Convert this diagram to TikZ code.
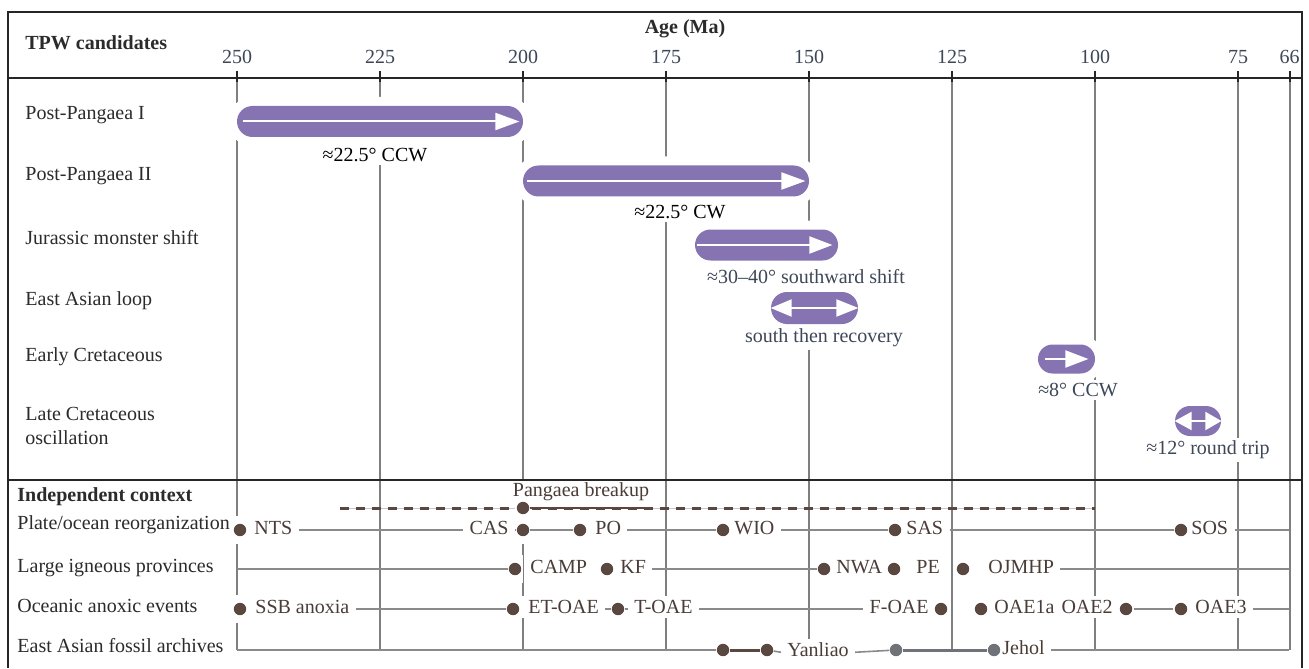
\documentclass[tikz,border=0pt]{standalone}
\usepackage{fontspec}
\setmainfont{Liberation Serif}
\usetikzlibrary{arrows.meta,shapes.misc}
\definecolor{frm}{HTML}{262626}
\definecolor{grd}{HTML}{7F7F7F}
\definecolor{rwl}{HTML}{8A8A8A}
\definecolor{tpw}{HTML}{8673B2}
\definecolor{brn}{HTML}{5A4840}
\definecolor{brt}{HTML}{4A3C36}
\definecolor{slate}{HTML}{3D4757}
\definecolor{gdt}{HTML}{6F7378}
\definecolor{lbl}{HTML}{2B2B2B}
\definecolor{lightbr}{HTML}{CFC6C1}
\begin{document}
\begin{tikzpicture}[x=0.5pt,y=-0.5pt,
  framel/.style={draw=frm, line width=1pt},
  gridl/.style={draw=grd, line width=1pt},
  rowl/.style={draw=rwl, line width=0.8pt},
  rowlab/.style={anchor=mid west, inner sep=0pt, text=lbl},
  ticklab/.style={text=slate, inner sep=0pt},
  bar/.style={rounded rectangle, fill=tpw, inner sep=0pt, minimum height=15.5pt,
    preaction={draw=white, line width=9pt}},
  barlab/.style={fill=white, inner xsep=2pt, inner ysep=1.5pt},
  arw/.style={draw=white, line width=1pt},
  evlab/.style={fill=white, text=brt, inner xsep=3pt, inner ysep=2pt},
  mask/.style={fill=white, inner sep=0pt, minimum width=8pt, minimum height=14pt},
  evdot/.style={circle, fill=brn, inner sep=0pt, minimum size=6.2pt},
  fdot/.style={circle, fill=gdt, inner sep=0pt, minimum size=6.2pt}
]
\useasboundingbox (0,0) rectangle (1309,668);
\fill[white] (0,0) rectangle (1309,668);

% ---------- grid and axis ----------
\foreach \a in {250,225,200,175,150,125,100,75,66}{
  \draw[gridl] ({237+(250-\a)*5.72},78) -- ({237+(250-\a)*5.72},650);
  \node[ticklab] (tick\a) at ({237+(250-\a)*5.72},57) {\a};
}
\node[font=\bfseries, text=lbl, inner sep=0pt] (age) at (685,29) {Age (Ma)};
\node[rowlab, font=\bfseries] (tpwc) at (25,45) {TPW candidates};

% ---------- TPW rows ----------
\node[rowlab] (r1) at (25,115) {Post-Pangaea I};
\node[rowlab] (r2) at (25,176) {Post-Pangaea II};
\node[rowlab] (r3) at (25,240) {Jurassic monster shift};
\node[rowlab] (r4) at (25,301) {East Asian loop};
\node[rowlab] (r5) at (25,357) {Early Cretaceous};
\node[anchor=west, inner sep=0pt, text=lbl, align=left] (r6) at (25,426) {Late Cretaceous\\oscillation};

\node[bar, minimum width=143pt] (b1) at (380,121.5) {};
\node[bar, minimum width=143pt] (b2) at (666,181) {};
\node[bar, minimum width=71.5pt] (b3) at (766.5,245) {};
\node[bar, minimum width=43.5pt, minimum height=16pt] (b4) at (814.5,308) {};
\node[bar, minimum width=28.5pt, minimum height=14.5pt] (b5) at (1066.5,359) {};
\node[bar, minimum width=23pt, minimum height=15pt] (b6) at (1198,421) {};

\node[barlab, text=black] (t1) at (375,155) {≈22.5° CCW};
\node[barlab, text=black] (t2) at (680,212) {≈22.5° CW};
\node[barlab, text=slate] (t3) at (806,277) {≈30–40° southward shift};
\node[barlab, text=slate] (t4) at (824,338) {south then recovery};
\node[barlab, text=slate] (t5) at (1078,390) {≈8° CCW};
\node[barlab, text=slate] (t6) at (1208,450) {≈12° round trip};

\draw[arw, -{Triangle[length=12pt,width=8.5pt]}] ([xshift=3pt]b1.west) -- ([xshift=-2pt]b1.east);
\draw[arw, -{Triangle[length=12pt,width=8.5pt]}] ([xshift=2pt]b2.west) -- ([xshift=-2pt]b2.east);
\draw[arw, -{Triangle[length=11.5pt,width=8.5pt]}] ([xshift=1pt]b3.west) -- ([xshift=-3pt]b3.east);
\draw[arw, {Triangle[length=10.5pt,width=8.5pt]}-{Triangle[length=11pt,width=8.5pt]}] (b4.west) -- (b4.east);
\draw[arw, -{Triangle[length=11.5pt,width=8.5pt]}] ([xshift=3.5pt]b5.west) -- ([xshift=-3.5pt]b5.east);
\draw[arw, {Triangle[length=8.5pt,width=9pt]}-{Triangle[length=8pt,width=9pt]}] (b6.west) -- (b6.east);

% ---------- independent context ----------
\node[rowlab, font=\bfseries] (ic) at (17,497) {Independent context};
\node[rowlab] (rowP) at (17,525) {Plate/ocean reorganization};
\node[rowlab] (rowL) at (17,568) {Large igneous provinces};
\node[rowlab] (rowO) at (17,608) {Oceanic anoxic events};
\node[rowlab] (rowF) at (17,648) {East Asian fossil archives};

\coordinate (pA) at (340,508);
\coordinate (pB) at (1095,508);
\coordinate (pC) at (645,508);
\coordinate (eP) at (1289,530);
\coordinate (sL) at (237,569);
\coordinate (eL) at (1289,569);
\coordinate (eO) at (1289,609);
\coordinate (sF) at (237,650);
\coordinate (eF) at (1289,650);

\draw[draw=lightbr, line width=0.5pt] (pA) -- (pB);
\draw[draw=brn, line width=1.5pt, dash pattern=on 4.5pt off 3.5pt] (pA) -- (pB);

% white masks behind the event dots
\foreach \n/\x/\y in {PB/523/508,
  NTS/240/530, CAS/523/530, PO/580/530, WIO/723/530, SAS/895/530, SOS/1181/530,
  CAMP/515/569, KF/607/569, NWA/824/569, PE/894/569, OJ/963/569,
  SSB/240/609, ET/513/609, T/618/609, F/941/609, OA1/981/609, OA2/1126/609, OA3/1181/609,
  Y1/723/650, Y2/767/650, J1/896/650, J2/994/650}{
  \node[mask] (m\n) at (\x,\y) {};
}

% event labels
\node[evlab, inner ysep=1pt] (lPB) at (581,492) {Pangaea breakup};
\node[evlab, anchor=mid west] (lNTS) at (248,530) {NTS};
\node[evlab, anchor=mid east] (lCAS) at (515,530) {CAS};
\node[evlab, anchor=mid west] (lPO) at (589,530) {PO};
\node[evlab, anchor=mid west] (lWIO) at (728,530) {WIO};
\node[evlab, anchor=mid west] (lSAS) at (900,530) {SAS};
\node[evlab, anchor=mid west] (lSOS) at (1185,530) {SOS};

\node[evlab, anchor=mid west] (lCAMP) at (524,569) {CAMP};
\node[evlab, anchor=mid west] (lKF) at (614,569) {KF};
\node[evlab, anchor=mid west] (lNWA) at (830,569) {NWA};
\node[evlab, anchor=mid west] (lPE) at (910,569) {PE};
\node[evlab, anchor=mid west] (lOJ) at (982,569) {OJMHP};

\node[evlab, anchor=mid west] (lSSB) at (249,609) {SSB anoxia};
\node[evlab, anchor=mid west] (lET) at (522,609) {ET-OAE};
\node[evlab, anchor=mid west] (lT) at (628,609) {T-OAE};
\node[evlab, anchor=mid east] (lF) at (935,609) {F-OAE};
\node[evlab, anchor=mid west] (lOA1) at (988,609) {OAE1a};
\node[evlab, anchor=mid east] (lOA2) at (1119,609) {OAE2};
\node[evlab, anchor=mid west] (lOA3) at (1189,609) {OAE3};

\node[evlab] (lY) at (818,650) {Yanliao};
\node[evlab, anchor=mid west] (lJ) at (996,650) {Jehol};

% dots
\foreach \n in {PB,NTS,CAS,PO,WIO,SAS,SOS,CAMP,KF,NWA,PE,OJ,SSB,ET,T,F,OA1,OA2,OA3,Y1,Y2}{
  \node[evdot] (d\n) at (m\n) {};
}
\node[fdot] (dJ1) at (mJ1) {};
\node[fdot] (dJ2) at (mJ2) {};

% connectors
\draw[draw=brn, line width=1.25pt] (dPB) -- (pC);

\draw[rowl] (lNTS.mid east) -- (lCAS.mid west);
\draw[rowl] (lCAS.mid east) -- (dCAS);
\draw[rowl] (dCAS) -- (dPO);
\draw[rowl] (lPO.mid east) -- (dWIO);
\draw[rowl] (lWIO.mid east) -- (dSAS);
\draw[rowl] (lSAS.mid east) -- (dSOS);
\draw[rowl] (lSOS.mid east) -- (eP);

\draw[rowl] (sL) -- (dCAMP);
\draw[rowl] (lKF.mid east) -- (dNWA);
\draw[rowl] (lOJ.mid east) -- (eL);

\draw[rowl] (lSSB.mid east) -- (dET);
\draw[rowl] (lET.mid east) -- (dT);
\draw[rowl] (dT) -- (lT.mid west);
\draw[rowl] (lT.mid east) -- (lF.mid west);
\draw[rowl] (mOA2) -- (mOA3);
\draw[rowl] (lOA3.mid east) -- (eO);

\draw[rowl] (sF) -- (dY1);
\draw[draw=brn, line width=1.5pt] (dY1) -- (dY2);
\draw[rowl] (dY2) -- (lY.mid west);
\draw[rowl] (lY.mid east) -- (dJ1);
\draw[draw=gdt, line width=1.5pt] (dJ1) -- (dJ2);
\draw[rowl] (lJ.mid east) -- (eF);

% ---------- frame and ticks (on top) ----------
\draw[framel] (8,668) -- (8,12) -- (1302,12) -- (1302,668);
\draw[framel] (8,78) -- (1302,78);
\draw[framel] (8,480) -- (1302,480);
\foreach \a in {250,225,200,175,150,125,100,75,66}{
  \draw[framel] ({237+(250-\a)*5.72},71) -- ({237+(250-\a)*5.72},82);
}
\end{tikzpicture}
\end{document}
